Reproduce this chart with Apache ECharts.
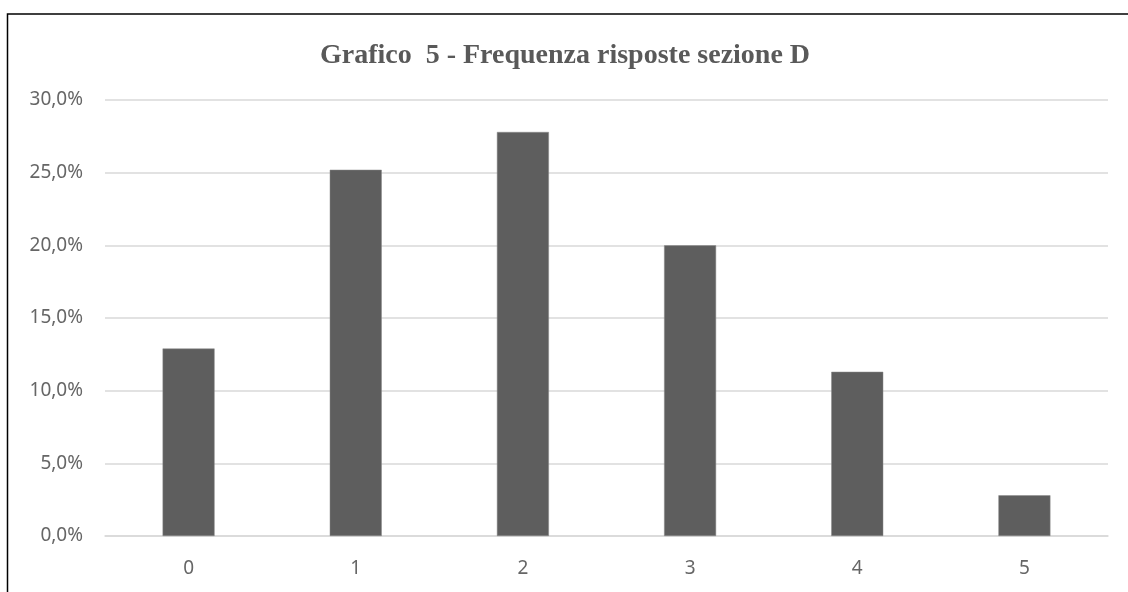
<!DOCTYPE html>
<html>
<head>
<meta charset="utf-8">
<script src="https://cdn.jsdelivr.net/npm/echarts@6/dist/echarts.min.js"></script>
<style>html,body{margin:0;padding:0;background:#fff}#c{width:1128px;height:592px}</style>
</head>
<body>
<div id="c"></div>
<script>
const categories = ['0', '1', '2', '3', '4', '5'];
const values = [12.9, 25.2, 27.8, 20.0, 11.3, 2.8];
const titleText = 'Grafico  5 - Frequenza risposte sezione D';

const chart = echarts.init(document.getElementById('c'), null, {renderer: 'canvas'});
chart.setOption({
  animation: false,
  backgroundColor: '#ffffff',
  title: {
    text: titleText,
    left: 560, top: 37, textAlign: 'center',
    textStyle: {fontFamily: 'Liberation Serif', fontWeight: 'bold', fontSize: 28, color: '#595959'}
  },
  graphic: [{
    type: 'rect', shape: {x: 7.5, y: 14, width: 1300, height: 800},
    style: {fill: 'none', stroke: '#000', lineWidth: 1.5}, silent: true
  }],
  grid: {left: 105, right: 20, top: 100, bottom: 56, containLabel: false},
  xAxis: {
    type: 'category', data: categories,
    axisLine: {lineStyle: {color: '#d9d9d9', width: 1.5}},
    axisTick: {show: false},
    axisLabel: {color: '#666666', fontFamily: 'Noto Sans', fontSize: 19, margin: 23}
  },
  yAxis: {
    type: 'value', min: 0, max: 30, interval: 5,
    axisLine: {show: false}, axisTick: {show: false},
    splitLine: {lineStyle: {color: '#d9d9d9', width: 1.5}},
    axisLabel: {color: '#666666', fontFamily: 'Noto Sans', fontSize: 19, margin: 22,
      formatter: v => v.toFixed(1).replace('.', ',') + '%'}
  },
  series: [{
    type: 'bar', data: values, barWidth: 52,
    itemStyle: {color: '#5e5e5e', borderColor: '#8a8a8a', borderWidth: 0.5}
  }]
});
</script>
</body>
</html>
